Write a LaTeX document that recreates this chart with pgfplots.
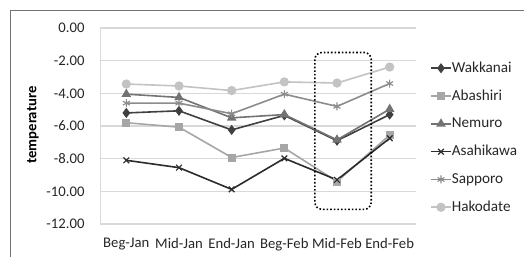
\documentclass[border=0pt]{standalone}
\usepackage{pgfplots}
\pgfplotsset{compat=1.18}
\usepackage{fontspec}
\setmainfont{Carlito}
\definecolor{cWak}{HTML}{404040}
\definecolor{cAba}{HTML}{A6A6A6}
\definecolor{cNem}{HTML}{737373}
\definecolor{cAsa}{HTML}{2B2B2B}
\definecolor{cSap}{HTML}{8C8C8C}
\definecolor{cHak}{HTML}{C3C3C3}
\definecolor{gridc}{HTML}{D9D9D9}
\begin{document}
\begin{tikzpicture}[x=1pt,y=1pt]
\useasboundingbox (0,0) rectangle (524,257);
\draw[color=black!55, line width=0.9pt] (10,0) -- (10,247) -- (524,247);
\node[rotate=90, font=\fontsize{14.7}{17}\selectfont\bfseries, text=black] at (33,132) {temperature};
\begin{axis}[
  at={(100pt,33pt)}, anchor=south west,
  scale only axis, width=316pt, height=196pt,
  xmin=-0.5, xmax=5.5, ymin=-12, ymax=0,
  xtick={0,1,2,3,4,5},
  xticklabels={Beg-Jan,Mid-Jan,End-Jan,Beg-Feb,Mid-Feb,End-Feb},
  ytick={-12,-10,-8,-6,-4,-2,0},
  /pgf/number format/fixed, /pgf/number format/fixed zerofill, /pgf/number format/precision=2, /pgf/number format/assume math mode=true,
  ticklabel style={font=\fontsize{14.7}{17}\selectfont, text=black!85},
  xticklabel style={yshift=-11pt},
  yticklabel style={xshift=-12pt},
  major tick length=0pt,
  ymajorgrids, grid style={gridc, line width=1.2pt},
  axis x line*=bottom, axis y line*=left,
  x axis line style={draw=none},
  y axis line style={draw=gridc, line width=1pt, -},
  legend style={draw=none, fill=none, at={(1.0,0.44)}, anchor=west, xshift=14pt,
    font=\fontsize{15.2}{17}\selectfont, inner sep=0pt,
    nodes={inner sep=0pt, text height=18pt, text depth=9.8pt, font=\fontsize{15.2}{17}\selectfont, text=black!85}},
  legend cell align=left,
  legend image code/.code={\draw[#1, mark repeat=2, mark phase=2] plot coordinates {(0pt,0pt) (10pt,0pt) (20pt,0pt)};},
  every axis plot/.append style={line width=1.6pt},
]
\addplot[cWak, mark=diamond*, mark size=3.8pt, mark options={solid}] coordinates {(0,-5.2) (1,-5.07) (2,-6.24) (3,-5.35) (4,-6.9) (5,-5.3)};
\addlegendentry{Wakkanai}
\addplot[cAba, mark=square*, mark size=3.2pt] coordinates {(0,-5.8) (1,-6.07) (2,-7.93) (3,-7.35) (4,-9.4) (5,-6.55)};
\addlegendentry{Abashiri}
\addplot[cNem, mark=triangle*, mark size=4pt] coordinates {(0,-4.05) (1,-4.25) (2,-5.5) (3,-5.3) (4,-6.85) (5,-4.97)};
\addlegendentry{Nemuro}
\addplot[cAsa, mark=x, mark size=4pt, mark options={line width=1.2pt}] coordinates {(0,-8.1) (1,-8.55) (2,-9.88) (3,-7.98) (4,-9.3) (5,-6.75)};
\addlegendentry{Asahikawa}
\addplot[cSap, mark=asterisk, mark size=4pt, mark options={line width=1.1pt}] coordinates {(0,-4.6) (1,-4.6) (2,-5.25) (3,-4.05) (4,-4.8) (5,-3.4)};
\addlegendentry{Sapporo}
\addplot[cHak, mark=*, mark size=3.8pt] coordinates {(0,-3.43) (1,-3.55) (2,-3.83) (3,-3.3) (4,-3.37) (5,-2.39)};
\addlegendentry{Hakodate}
\draw[black, dotted, line width=1.6pt, rounded corners=7pt] (axis cs:3.58,-1.5) rectangle (axis cs:4.65,-11.1);
\end{axis}
\end{tikzpicture}
\end{document}
